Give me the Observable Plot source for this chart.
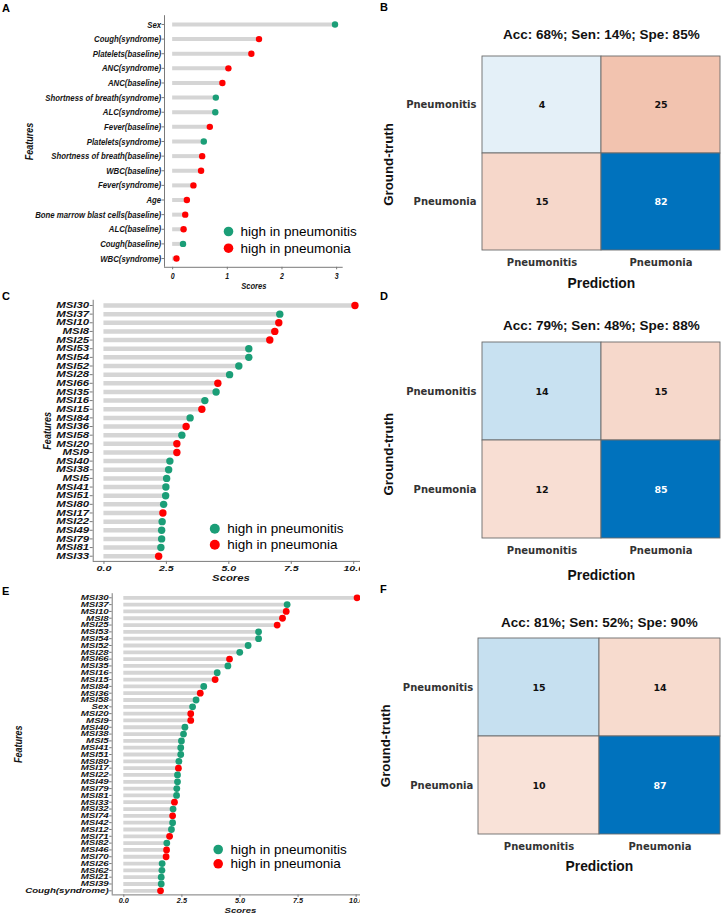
<!DOCTYPE html>
<html><head><meta charset="utf-8">
<script src="https://cdn.jsdelivr.net/npm/d3@7"></script>
<script src="https://cdn.jsdelivr.net/npm/@observablehq/plot@0.6"></script>
<style>
body{margin:0;background:#fff;}
#page{position:relative;width:726px;height:917px;overflow:hidden;background:#fff;}
.panel{position:absolute;}
.letter{position:absolute;font:bold 11px/11px "Liberation Sans",Arial,sans-serif;color:#000;}
</style></head>
<body><div id="page"></div>
<script>
// ---------------- data ----------------
const T = "pneumonitis", N = "pneumonia";
const groups = [T, N];
const legendLabels = ["high in pneumonitis", "high in pneumonia"];

const featuresA = ["Sex","Cough(syndrome)","Platelets(baseline)","ANC(syndrome)","ANC(baseline)","Shortness of breath(syndrome)","ALC(syndrome)","Fever(baseline)","Platelets(syndrome)","Shortness of breath(baseline)","WBC(baseline)","Fever(syndrome)","Age","Bone marrow blast cells(baseline)","ALC(baseline)","Cough(baseline)","WBC(syndrome)"];
const scoresA = [2.97,1.58,1.44,1.02,0.91,0.79,0.78,0.68,0.57,0.54,0.52,0.38,0.26,0.23,0.20,0.19,0.07];
const highInA = [T,N,N,N,N,T,T,N,T,N,N,N,N,N,N,T,N];

const featuresC = ["MSI30","MSI37","MSI10","MSI8","MSI25","MSI53","MSI54","MSI52","MSI28","MSI66","MSI35","MSI16","MSI15","MSI84","MSI36","MSI58","MSI20","MSI9","MSI40","MSI38","MSI5","MSI41","MSI51","MSI80","MSI17","MSI22","MSI49","MSI79","MSI81","MSI33"];
const scoresC = [10.05,7.04,7.0,6.84,6.64,5.8,5.8,5.4,5.03,4.56,4.49,4.04,3.92,3.45,3.29,3.12,2.92,2.92,2.64,2.59,2.51,2.48,2.47,2.39,2.36,2.33,2.31,2.31,2.28,2.19];
const highInC = [N,T,N,N,N,T,T,T,T,N,T,T,N,T,N,T,N,N,T,T,T,T,T,T,N,T,T,T,T,N];

const featuresE = ["MSI30","MSI37","MSI10","MSI8","MSI25","MSI53","MSI54","MSI52","MSI28","MSI66","MSI35","MSI16","MSI15","MSI84","MSI36","MSI58","Sex","MSI20","MSI9","MSI40","MSI38","MSI5","MSI41","MSI51","MSI80","MSI17","MSI22","MSI49","MSI79","MSI81","MSI33","MSI32","MSI74","MSI42","MSI12","MSI71","MSI82","MSI46","MSI70","MSI26","MSI62","MSI21","MSI39","Cough(syndrome)"];
const scoresE = [10.04,7.03,6.99,6.83,6.6,5.8,5.8,5.35,4.99,4.55,4.48,4.02,3.93,3.44,3.29,3.11,2.96,2.88,2.88,2.63,2.57,2.48,2.45,2.45,2.37,2.35,2.31,2.31,2.28,2.27,2.18,2.12,2.1,2.1,2.05,1.97,1.85,1.84,1.82,1.65,1.64,1.61,1.61,1.58];
const highInE = [N,T,N,N,N,T,T,T,T,N,T,T,N,T,N,T,T,N,N,T,T,T,T,T,T,N,T,T,T,T,N,T,N,T,T,N,T,N,N,T,T,T,T,N];

const classes = ["Pneumonitis", "Pneumonia"];
const countsB = [[4, 25], [15, 82]];
const countsD = [[14, 15], [12, 85]];
const countsF = [[15, 14], [10, 87]];
const titleB = "Acc: 68%; Sen: 14%; Spe: 85%";
const titleD = "Acc: 79%; Sen: 48%; Spe: 88%";
const titleF = "Acc: 81%; Sen: 52%; Spe: 90%";
const ticksA = [0, 1, 2, 3];
const ticksCE = [0, 2.5, 5, 7.5, 10];

// ---------------- styles ----------------
const GREEN = "#1b9e77", RED = "#ff0000", BAR = "#d5d5d5", AXIS = "#7a7a7a", INK = "#151515";
// font family with a horizontal stretch marker (applied after render via textLength)
const fam = f => `'x-stretch-${Math.round(f * 100)}','Liberation Sans',Arial,sans-serif`;
const WIDE = "'DejaVu Sans',Verdana,sans-serif";
const SANS = "'Liberation Sans',Arial,sans-serif";

function lollipop(features, scores, highIn, o) {
  const rows = features.map((f, i) => ({i, feature: f, score: scores[i], group: highIn[i]}));
  const n = rows.length;
  const ital = {fontWeight: "bold", fontStyle: "italic", fill: INK};
  const legend = groups.flatMap((g, k) => [
    Plot.dot([g], {frameAnchor: "top-left", dx: o.legDotDx, dy: o.legDy[k], r: o.legR, fill: d => d}),
    Plot.text([legendLabels[k]], {frameAnchor: "top-left", dx: o.legTextDx, dy: o.legDy[k], text: d => d,
      textAnchor: "start", lineAnchor: "middle", fontFamily: SANS, fontSize: 13.5, fill: "#000"})
  ]);
  return Plot.plot({
    width: o.width, height: o.height,
    marginTop: o.mt, marginRight: o.mr, marginBottom: o.mb, marginLeft: o.ml,
    style: {background: "transparent", maxWidth: "none", overflow: "visible"},
    x: {domain: o.xDomain},
    y: {domain: [-0.6, n - 1 + 0.6], reverse: true},
    color: {domain: groups, range: [GREEN, RED]},
    marks: [
      Plot.ruleY(rows, {y: "i", x1: 0, x2: "score", stroke: BAR, strokeWidth: o.barW}),
      Plot.dot(rows, {x: "score", y: "i", r: o.dotR, fill: "group"}),
      Plot.ruleX([o.xDomain[0]], {stroke: AXIS, strokeWidth: 1}),
      Plot.ruleY([n - 1 + 0.6], {stroke: AXIS, strokeWidth: 1}),
      Plot.axisY({ticks: d3.range(n), tickFormat: i => features[i], tickSize: o.yTickSize, tickPadding: o.yTickPad,
        label: null, fontFamily: fam(o.labelF), fontSize: o.labelSize, ...ital, stroke: AXIS}),
      Plot.axisX({ticks: o.xTicks, tickFormat: o.xFormat, tickSize: o.xTickSize, tickPadding: o.xTickPad,
        label: null, fontFamily: fam(o.xTickF), fontSize: o.xTickFont, ...ital, stroke: AXIS}),
      Plot.text(["Scores"], {frameAnchor: "bottom", dy: o.scoresDy, text: d => d, textAnchor: "middle", lineAnchor: "middle",
        fontFamily: fam(o.scoresF), fontSize: o.scoresSize, ...ital}),
      Plot.text(["Features"], {frameAnchor: "left", dx: o.featDx, text: d => d, rotate: -90, textAnchor: "middle", lineAnchor: "middle",
        fontFamily: fam(0.82), fontSize: 11, ...ital}),
      ...legend
    ]
  });
}

function confusion(counts, title, o) {
  const max = d3.max(counts.flat());
  const cells = classes.flatMap((truth, r) => classes.map((pred, c) => ({
    truth, pred, n: counts[r][c],
    v: (r === c ? 1 : -1) * (0.06 + 0.94 * counts[r][c] / max)
  })));
  const lab = {textAnchor: "middle", lineAnchor: "middle", fontFamily: SANS, fontWeight: "bold", fill: "#111", text: d => d};
  const num = {x: "pred", y: "truth", text: "n", fontFamily: WIDE, fontWeight: "bold", fontSize: 9.5};
  return Plot.plot({
    width: o.width, height: o.height,
    marginTop: o.mt, marginRight: o.mr, marginBottom: o.mb, marginLeft: o.ml,
    style: {background: "transparent", maxWidth: "none", overflow: "visible"},
    x: {domain: classes, padding: 0},
    y: {domain: classes, padding: 0},
    color: {type: "linear", domain: [-1, 0, 1], range: ["#D95319", "#ffffff", "#0072BD"], interpolate: d3.interpolateRgb},
    marks: [
      Plot.cell(cells, {x: "pred", y: "truth", fill: "v", stroke: "#6b6b6b", strokeWidth: 0.9}),
      Plot.text(cells, {...num, filter: d => Math.abs(d.v) > 0.6, fill: "white"}),
      Plot.text(cells, {...num, filter: d => Math.abs(d.v) <= 0.6, fill: "#111"}),
      Plot.axisX({tickSize: 0, tickPadding: 8, label: null, fontFamily: WIDE, fontWeight: "bold", fontSize: 10, fill: "#333"}),
      Plot.axisY({tickSize: 0, tickPadding: 5, label: null, fontFamily: WIDE, fontWeight: "bold", fontSize: 10, fill: "#333"}),
      Plot.text([title], {...lab, frameAnchor: "top", dy: o.titleDy, fontSize: 13.5}),
      Plot.text(["Prediction"], {...lab, frameAnchor: "bottom", dy: o.predDy, fontSize: 13.8}),
      Plot.text(["Ground-truth"], {...lab, frameAnchor: "left", dx: -92.7, dy: o.gtDy, rotate: -90, fontSize: 13.3})
    ]
  });
}

// ---------------- layout ----------------
const page = document.getElementById("page");
function place(node, left, top, clipWidth) {
  const div = document.createElement("div");
  div.className = "panel";
  div.style.left = left + "px";
  div.style.top = top + "px";
  if (clipWidth) {
    div.style.width = clipWidth + "px";
    div.style.height = node.getAttribute("height") + "px";
    div.style.overflow = "hidden";
  }
  div.appendChild(node);
  page.appendChild(div);
}

place(lollipop(featuresA, scoresA, highInA, {
  width: 360, height: 300, mt: 15.2, mr: 17.3, mb: 33.2, ml: 164,
  xDomain: [-0.149, 3.12], xTicks: ticksA, xFormat: d3.format("d"),
  labelSize: 9.5, labelF: 0.82, yTickSize: 2.5, yTickPad: 0.8,
  xTickFont: 8.5, xTickF: 0.82, xTickSize: 2.5, xTickPad: 2.7,
  scoresDy: 18.2, scoresSize: 9.5, scoresF: 0.8, featDx: -135,
  dotR: 3.2, barW: 4, legDotDx: 64, legTextDx: 76, legDy: [215.8, 232.5], legR: 4.8
}), 0, 0);

place(lollipop(featuresC, scoresC, highInC, {
  width: 372, height: 300, mt: 9.8, mr: 3.8, mb: 29.1, ml: 92.7,
  xDomain: [-0.43, 10.6], xTicks: ticksCE, xFormat: d3.format(".1f"),
  labelSize: 8.4, labelF: 1.36, yTickSize: 3, yTickPad: 1,
  xTickFont: 7.8, xTickF: 1.36, xTickSize: 3, xTickPad: 1,
  scoresDy: 16.8, scoresSize: 8.3, scoresF: 1.36, featDx: -45.7,
  dotR: 3.7, barW: 4.5, legDotDx: 121.6, legTextDx: 134, legDy: [228.5, 244.5], legR: 5
}), 0, 290, 360);

place(lollipop(featuresE, scoresE, highInE, {
  width: 372, height: 329, mt: 5.2, mr: 3.8, mb: 22.6, ml: 111.7,
  xDomain: [-0.5, 10.54], xTicks: ticksCE, xFormat: d3.format(".1f"),
  labelSize: 7.2, labelF: 1.35, yTickSize: 2.5, yTickPad: 1,
  xTickFont: 6.5, xTickF: 1.12, xTickSize: 2.5, xTickPad: 0.8,
  scoresDy: 15.6, scoresSize: 8, scoresF: 1.19, featDx: -93.7,
  dotR: 3.4, barW: 3.8, legDotDx: 106, legTextDx: 118.3, legDy: [255.8, 270.1], legR: 4.8
}), 0, 588, 360);

place(confusion(countsB, titleB, {width: 356, height: 300, mt: 56, mr: 5.3, mb: 50, ml: 111,
  titleDy: -21.7, predDy: 33.3, gtDy: 11}), 370, 0);
place(confusion(countsD, titleD, {width: 356, height: 300, mt: 41, mr: 5.3, mb: 61.7, ml: 111,
  titleDy: -16, predDy: 36.7, gtDy: 14}), 370, 300);
place(confusion(countsF, titleF, {width: 356, height: 317, mt: 38.3, mr: 6, mb: 82.7, ml: 107.7,
  titleDy: -16.6, predDy: 31.7, gtDy: 9}), 370, 600);

// horizontal stretch / condense of marked text groups
document.querySelectorAll('g[font-family*="x-stretch-"]').forEach(g => {
  const f = +g.getAttribute("font-family").match(/x-stretch-(\d+)/)[1] / 100;
  g.querySelectorAll("text").forEach(t => {
    const len = t.getComputedTextLength();
    if (len > 0) {
      t.setAttribute("textLength", (len * f).toFixed(2));
      t.setAttribute("lengthAdjust", "spacingAndGlyphs");
    }
  });
});

[["A", 2, 2.7], ["B", 380, 1.7], ["C", 2, 290.7], ["D", 380, 290.7], ["E", 2, 586.4], ["F", 380, 584]].forEach(([t, x, y]) => {
  const d = document.createElement("div");
  d.className = "letter";
  d.textContent = t;
  d.style.left = x + "px";
  d.style.top = y + "px";
  page.appendChild(d);
});
</script>
</body></html>
